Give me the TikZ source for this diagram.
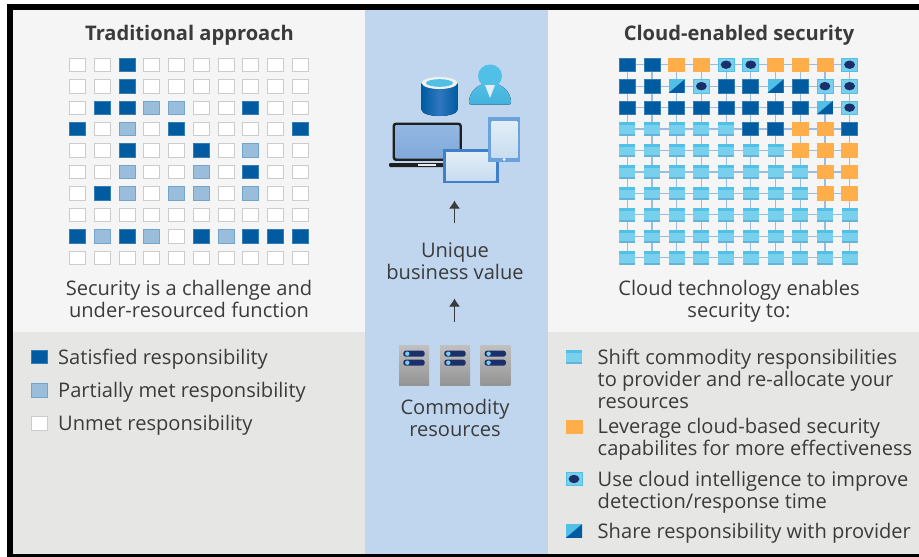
\documentclass[tikz,border=0pt]{standalone}
\usepackage{fontspec}
\setmainfont{Open Sans}
\usetikzlibrary{arrows.meta}
\definecolor{paneltop}{HTML}{F5F5F5}
\definecolor{panelbot}{HTML}{E6E6E5}
\definecolor{midblue}{HTML}{BFD6EE}
\definecolor{satblue}{HTML}{005BA1}
\definecolor{partblue}{HTML}{9ABDDC}
\definecolor{skyblue}{HTML}{78D0EC}
\definecolor{skyedge}{HTML}{50C0E6}
\definecolor{skylow}{HTML}{62B4D8}
\definecolor{cellorange}{HTML}{FFAE4A}
\definecolor{dotnavy}{HTML}{1B2F6B}
\definecolor{linkblue}{HTML}{9DBCDD}
\definecolor{inktext}{HTML}{3B3B3B}
\definecolor{tabletblue}{HTML}{3F80C8}
\definecolor{phoneblue}{HTML}{6BA2DC}
\definecolor{screenlow}{HTML}{C8DDF0}
\definecolor{screentop}{HTML}{E2EEF6}
\definecolor{lapscreentop}{HTML}{94B8E2}
\definecolor{lapscreenlow}{HTML}{7FA8DA}
\definecolor{dbmid}{HTML}{2F78C0}
\tikzset{
cellbox/.style={minimum width=16pt,minimum height=13.5pt,inner sep=0pt,outer sep=0pt,line width=0.7pt},
unmet/.style={cellbox,draw=black!20,fill=white},
part/.style={cellbox,draw=satblue!55,fill=partblue},
sat/.style={cellbox,draw=satblue!80,fill=satblue},
sky/.style={cellbox,fill=skyblue,path picture={
  \fill[skyedge] (path picture bounding box.north west) rectangle ([yshift=-3pt]path picture bounding box.north east);
  \fill[skylow] (path picture bounding box.south west) rectangle ([yshift=2pt]path picture bounding box.south east);}},
lever/.style={cellbox,draw=cellorange,fill=cellorange},
intel/.style={cellbox,draw=skyedge,fill=skyblue,path picture={
  \fill[dotnavy] (path picture bounding box.center) ellipse (5.4pt and 4.2pt);}},
share/.style={cellbox,fill=skyedge,path picture={
  \fill[satblue] (path picture bounding box.south west)--(path picture bounding box.north east)--(path picture bounding box.south east)--cycle;}},
txt/.style={text=inktext,font=\fontsize{20.1pt}{22pt}\selectfont,inner sep=0pt,align=center},
lefttxt/.style={txt,align=left,anchor=west},
headtxt/.style={txt,font=\fontsize{20.1pt}{22pt}\selectfont\bfseries},
uparrow/.style={draw=inktext,line width=1pt,-{Latex[length=8pt,width=11pt]}},
}
\begin{document}
\begin{tikzpicture}[x=1pt,y=-1pt]
\useasboundingbox (0,0) rectangle (919,557);
% panels
\fill[white] (0,0) rectangle (919,557);
\fill[black] (7,3.7) rectangle (919,557);
\fill[paneltop] (13,9.5) rectangle (919,332);
\fill[panelbot] (13,332) rectangle (919,553.5);
\fill[midblue] (365,9.5) rectangle (548,553.5);
% headings
\node[headtxt] (head1) at (189.5,35) {Traditional approach};
\node[headtxt] (head2) at (739,35) {Cloud-enabled security};
% left grid
\foreach \row/\cells in {0/{u,u,s,u,u,u,u,u,u,u},1/{u,u,s,u,u,u,u,u,u,u},2/{u,s,s,p,p,u,u,s,u,u},
3/{s,u,p,u,s,u,u,u,u,s},4/{u,u,s,u,u,s,u,p,u,u},5/{u,u,p,u,u,p,u,s,u,u},6/{u,s,p,u,p,p,u,p,u,u},
7/{u,u,u,u,u,u,u,u,u,u},8/{s,p,s,p,u,s,p,s,s,s},9/{u,u,u,u,u,u,u,u,u,u}}{
  \foreach \c [count=\col from 0] in \cells {
    \if\c s\def\sty{sat}\fi
    \if\c p\def\sty{part}\fi
    \if\c u\def\sty{unmet}\fi
    \node[\sty] (l-\row-\col) at ({77.7+24.7*\col},{64.7+21.45*\row}) {};
  }
}
% right grid, links first
\foreach \row in {0,...,9}{
  \foreach \col in {0,...,9}{
    \coordinate (r-\row-\col) at ({627.3+24.7*\col},{64.7+21.45*\row});
  }
}
\foreach \row in {0,...,9}{
  \draw[linkblue,line width=1.2pt] (r-\row-0)--(r-\row-9);
}
\foreach \col in {0,...,9}{
  \draw[linkblue,line width=1.2pt] (r-0-\col)--(r-9-\col);
}
\foreach \row/\cells in {0/{s,s,o,o,c,c,o,o,o,c},1/{s,s,h,c,s,s,h,s,c,c},2/{s,s,s,s,s,s,s,s,h,c},
3/{l,l,l,l,l,s,s,o,o,s},4/{l,l,l,l,l,l,l,o,o,o},5/{l,l,l,l,l,l,l,l,o,o},6/{l,l,l,l,l,l,l,l,o,o},
7/{l,l,l,l,l,l,l,l,l,l},8/{l,l,l,l,l,l,l,l,l,l},9/{l,l,l,l,l,l,l,l,l,l}}{
  \foreach \c [count=\col from 0] in \cells {
    \if\c s\def\sty{sat}\fi
    \if\c o\def\sty{lever}\fi
    \if\c c\def\sty{intel}\fi
    \if\c h\def\sty{share}\fi
    \if\c l\def\sty{sky}\fi
    \node[\sty] (n-\row-\col) at (r-\row-\col) {};
  }
}
% captions
\node[txt] (cap1) at (189,299) {Security is a challenge and\\under-resourced function};
\node[txt] (cap2) at (739,301) {Cloud technology enables\\security to:};
% left legend
\node[sat] (leg1) at (39,357) {};
\node[part] (leg2) at (39,390.5) {};
\node[unmet] (leg3) at (39,423.5) {};
\node[lefttxt] (legt1) at (58,359) {Satisfied responsibility};
\node[lefttxt] (legt2) at (58,392.5) {Partially met responsibility};
\node[lefttxt] (legt3) at (58,425.5) {Unmet responsibility};
% right legend
\node[sky] (key1) at (574,357) {};
\node[lever] (key2) at (574,427) {};
\node[intel] (key3) at (574,479) {};
\node[share] (key4) at (574,531) {};
\node[lefttxt,anchor=north west] (keyt1) at (597.5,348.5) {Shift commodity responsibilities\\to provider and re-allocate your\\resources};
\node[lefttxt,anchor=north west] (keyt2) at (597.5,418.5) {Leverage cloud-based security\\capabilites for more effectiveness};
\node[lefttxt,anchor=north west] (keyt3) at (597.5,471.5) {Use cloud intelligence to improve\\detection/response time};
\node[lefttxt] (keyt4) at (597.5,533) {Share responsibility with provider};
% middle column
\node[txt] (valtxt) at (455,261) {Unique\\business value};
\node[txt] (comtxt) at (455,418) {Commodity\\resources};
\coordinate (a1) at (454.5,223);
\coordinate (a2) at (454.5,200.5);
\coordinate (a3) at (454.5,322);
\coordinate (a4) at (454.5,298.5);
\draw[uparrow] (a1)--(a2);
\draw[uparrow] (a3)--(a4);
% servers
\foreach \x in {399,440,480.3}{
  \fill[top color=black!25,bottom color=black!42] (\x,345.7) rectangle (\x+30,385.3);
  \foreach \y in {353.7,362.7}{
    \fill[dotnavy,rounded corners=2.5pt] (\x+4.3,\y-3) rectangle (\x+25.7,\y+3);
    \fill[skyblue] (\x+8.3,\y) circle (2.2pt);
  }
}
% database
\fill[left color=satblue,right color=satblue,middle color=dbmid] (421.7,83) -- (421.7,110) arc[start angle=180,end angle=360,x radius=17.8,y radius=-6] -- (457.3,83) arc[start angle=0,end angle=180,x radius=17.8,y radius=6] -- cycle;
\fill[black!6] (439.5,83) ellipse (17.8pt and 6pt);
\fill[skyedge] (439.5,83) ellipse (13.5pt and 3.8pt);
% user
\fill[top color=skyedge,bottom color=skyedge!85!satblue] (469,102) .. controls (469,92) and (478,83) .. (490,83) .. controls (502,83) and (511,92) .. (511,102) .. controls (511,104) and (510,104.5) .. (509,104.5) -- (471,104.5) .. controls (470,104.5) and (469,104) .. (469,102) -- cycle;
\fill[skyedge] (490,76) ellipse (12pt and 11.5pt);
\fill[screentop] (485,85) -- (495,85) -- (490,98) -- cycle;
% laptop
\fill[top color=lapscreentop,bottom color=lapscreenlow] (394,124) rectangle (460,160);
\draw[black!88,line width=2.4pt,rounded corners=2.5pt] (393.7,123.7) rectangle (460.7,159.7);
\fill[black!88,rounded corners=1pt] (389,163) rectangle (447,167);
\fill[black!8] (418,164.3) rectangle (436,165.7);
% tablet
\fill[tabletblue] (442.7,149) rectangle (499,183);
\fill[top color=screentop,bottom color=screenlow] (446,152.5) rectangle (495.7,180);
% phone
\fill[phoneblue] (488.3,117) rectangle (520,162);
\fill[top color=screentop,bottom color=screenlow] (491.7,121) rectangle (517.5,157);
\fill[white] (504,159.5) circle (1.5pt);
\end{tikzpicture}
\end{document}
